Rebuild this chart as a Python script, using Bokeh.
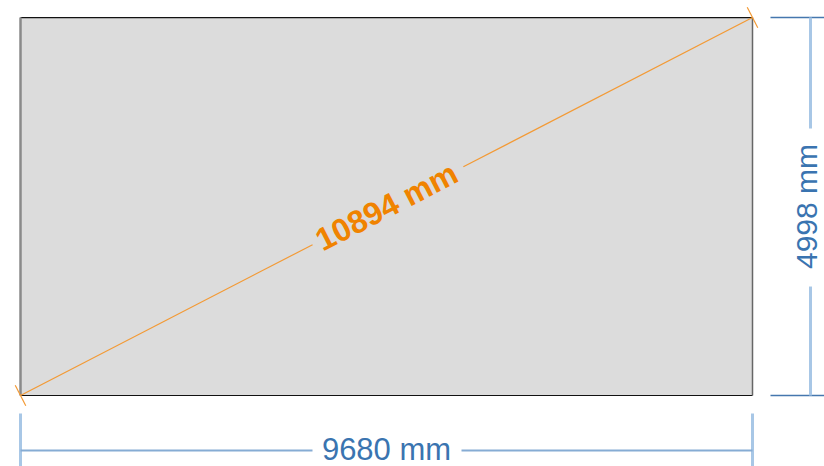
import math
from bokeh.plotting import figure
from bokeh.models import Range1d
from bokeh.core.properties import value
from bokeh.embed import file_html
from bokeh.resources import INLINE

# data (mm)
width_mm = [9680]
height_mm = [4998]
diag_mm = [10894]
unit = "mm"

W = width_mm[0]
H = height_mm[0]
D = diag_mm[0]

FW, FH = 824, 466
RECT_PX = 732          # rectangle width in pixels
LEFT_PX = 20           # rectangle left from figure left
BOTTOM_PX = 395        # rectangle bottom from figure top
s = W / RECT_PX        # mm per pixel

p = figure(width=FW, height=FH, output_backend="svg", toolbar_location=None,
           x_axis_type=None, y_axis_type=None, min_border=0,
           x_range=Range1d(-LEFT_PX * s, (FW - LEFT_PX) * s),
           y_range=Range1d(-(FH - BOTTOM_PX) * s, BOTTOM_PX * s))
p.grid.visible = False
p.outline_line_color = None
p.background_fill_color = "white"

# rectangle
p.quad(left=[0], right=[W], bottom=[0], top=[H], fill_color="#dcdcdc", line_color=None)
p.segment(x0=[0, 0], y0=[H, 0], x1=[W, W], y1=[H, 0], line_color="#111111", line_width=1.2)
p.segment(x0=[0], y0=[0], x1=[0], y1=[H], line_color="#8a8a8a", line_width=2.5)
p.segment(x0=[W], y0=[0], x1=[W], y1=[H], line_color="#666666", line_width=1.5)

# diagonal
ang = math.atan2(H, W)
t0, t1 = 0.399, 0.605
orange = "#f39a35"
p.segment(x0=[0, W * t1], y0=[0, H * t1], x1=[W * t0, W], y1=[H * t0, H],
          line_color=orange, line_width=1.2)
# perpendicular end ticks
tl = 11.5 * s
nx, ny = math.sin(ang), -math.cos(ang)
p.segment(x0=[-nx * tl, W - nx * tl], y0=[-ny * tl, H - ny * tl],
          x1=[nx * tl, W + nx * tl], y1=[ny * tl, H + ny * tl],
          line_color=orange, line_width=1.2)
p.text(x=[W / 2], y=[H / 2], text=[f"{D} {unit}"], angle=ang,
       text_font=value("Liberation Sans"), text_font_style="bold",
       text_font_size="32px", text_color="#f08300",
       text_align="center", text_baseline="middle")

blue_txt = "#3a74b0"
dark_blue = "#4577ae"
light_blue = "#a8c7e6"

# right dimension
rx = W + 58 * s
p.segment(x0=[W + 18 * s, W + 18 * s], y0=[0, H], x1=[W + 80 * s, W + 80 * s], y1=[0, H],
          line_color=dark_blue, line_width=1.5)
gap_lo, gap_hi = H / 2 - 80 * s, H / 2 + 78 * s
p.segment(x0=[rx, rx], y0=[0, gap_hi], x1=[rx, rx], y1=[gap_lo, H],
          line_color=light_blue, line_width=3)
p.text(x=[rx - 4 * s], y=[H / 2], text=[f"{H} {unit}"], angle=math.pi / 2,
       text_font=value("Liberation Sans"), text_font_size="30px", text_color=blue_txt,
       text_align="center", text_baseline="middle")

# bottom dimension
by = -55 * s
p.segment(x0=[0, W], y0=[-18 * s, -18 * s], x1=[0, W], y1=[-80 * s, -80 * s],
          line_color=light_blue, line_width=3)
p.segment(x0=[0, W / 2 + 75 * s], y0=[by, by], x1=[W / 2 - 74 * s, W], y1=[by, by],
          line_color="#86acd4", line_width=2)
p.text(x=[W / 2], y=[by + 1.5 * s], text=[f"{W} {unit}"],
       text_font=value("Liberation Sans"), text_font_size="31px", text_color=blue_txt,
       text_align="center", text_baseline="middle")

open("out.html", "w").write(file_html(p, INLINE))
